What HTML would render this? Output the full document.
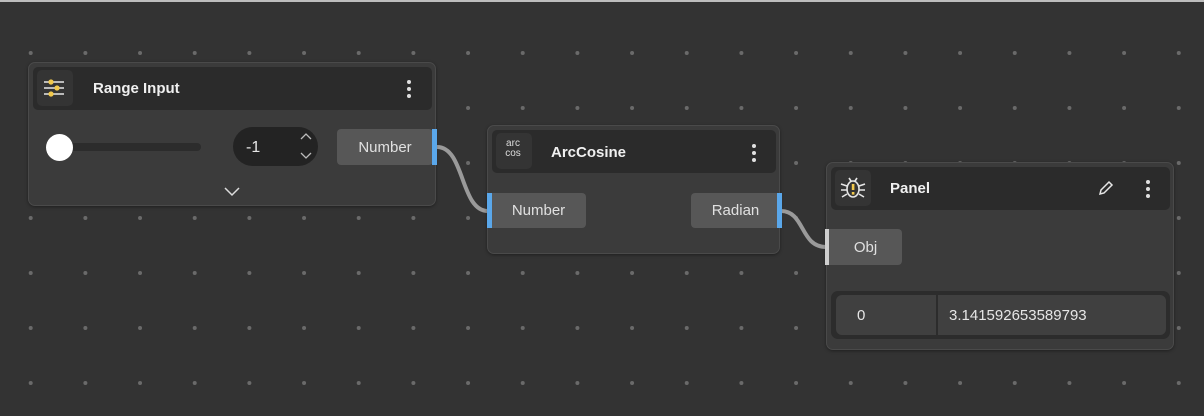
<!DOCTYPE html>
<html><head><style>
*{margin:0;padding:0;box-sizing:border-box}
body{width:1204px;height:416px;overflow:hidden;background:#333333;position:relative;font-family:"Liberation Sans",sans-serif;color:#e6e6e6}
.top{position:absolute;left:0;top:0;width:1204px;height:2px;background:#bdbdbd}
.node{position:absolute;background:#3b3b3b;border:1px solid #4a4a4a;border-radius:7px;box-shadow:0 1px 3px rgba(0,0,0,.4)}
.hdr{position:absolute;background:#2b2b2b;border-radius:5px}
.ico{position:absolute;background:#343434;border-radius:5px}
.title{position:absolute;font-weight:bold;font-size:15px;color:#f0f0f0}
.port{position:absolute;background:#575757;border-radius:4px;font-size:15px;color:#e0e0e0;text-align:center}
.bar{position:absolute;background:#5aa7ea}
.dots{position:absolute;width:4px}
.dots i{display:block;width:4px;height:4px;border-radius:2px;background:#e0e0e0;margin-bottom:3px}
</style></head><body>
<div class="top"></div>
<svg width="1204" height="416" style="position:absolute;left:0;top:0">
<g fill="#6a6a6a" id="g"></g>
<script>
var g=document.getElementById('g');
for(var r=0;r<7;r++)for(var c=0;c<22;c++){var e=document.createElementNS('http://www.w3.org/2000/svg','circle');e.setAttribute('cx',30.7+54.67*c);e.setAttribute('cy',53+55*r);e.setAttribute('r',2);g.appendChild(e);}
</script>
<path d="M437 147 C465 147 460 211 488 211" stroke="#9a9a9a" stroke-width="4" fill="none"/>
<path d="M781 211 C805 211 800 247 826 247" stroke="#9a9a9a" stroke-width="4" fill="none"/>
</svg>

<!-- Range Input -->
<div class="node" style="left:28px;top:62px;width:408px;height:144px">
 <div class="hdr" style="left:4px;top:4px;width:399px;height:43px"></div>
 <div class="ico" style="left:8px;top:7px;width:36px;height:36px"></div>
</div>
<svg width="30" height="30" style="position:absolute;left:40px;top:74px">
 <g stroke="#e6e6e6" stroke-width="1.6"><line x1="4" y1="8" x2="24" y2="8"/><line x1="4" y1="14" x2="24" y2="14"/><line x1="4" y1="20" x2="24" y2="20"/></g>
 <g fill="#f2c94c"><circle cx="11" cy="8" r="2.6"/><circle cx="17" cy="14" r="2.6"/><circle cx="11" cy="20" r="2.6"/></g>
</svg>
<div class="title" style="left:93px;top:80px">Range Input</div>
<div class="dots" style="left:407px;top:80px"><i></i><i></i><i></i></div>
<div style="position:absolute;left:59px;top:143px;width:142px;height:8px;background:#2c2c2c;border-radius:4px"></div>
<div style="position:absolute;left:46px;top:134px;width:27px;height:27px;border-radius:50%;background:#fff"></div>
<div style="position:absolute;left:233px;top:127px;width:85px;height:39px;border-radius:20px;background:#232323"></div>
<div style="position:absolute;left:246px;top:139px;font-size:16px;color:#e6e6e6">-1</div>
<svg width="14" height="30" style="position:absolute;left:299px;top:131px" fill="none" stroke="#bbb" stroke-width="1.3"><path d="M2 8 L7 3 L12 8"/><path d="M2 22 L7 27 L12 22"/></svg>
<div class="port" style="left:337px;top:129px;width:96px;height:36px;line-height:37px">Number</div>
<div class="bar" style="left:432px;top:129px;width:5px;height:36px"></div>
<svg width="18" height="12" style="position:absolute;left:223px;top:186px" fill="none" stroke="#ddd" stroke-width="1.5"><path d="M2 2 L9 9 L16 2"/></svg>

<!-- ArcCosine -->
<div class="node" style="left:487px;top:125px;width:293px;height:129px">
 <div class="hdr" style="left:4px;top:4px;width:284px;height:43px"></div>
 <div class="ico" style="left:8px;top:7px;width:36px;height:36px"></div>
</div>
<div style="position:absolute;left:497px;top:139px;width:32px;font-size:10px;line-height:10px;text-align:center;color:#ddd">arc<br>cos</div>
<div class="title" style="left:551px;top:144px">ArcCosine</div>
<div class="dots" style="left:752px;top:144px"><i></i><i></i><i></i></div>
<div class="port" style="left:487px;top:193px;width:99px;height:35px;line-height:36px;padding-left:4px">Number</div>
<div class="bar" style="left:487px;top:193px;width:5px;height:35px"></div>
<div class="port" style="left:691px;top:193px;width:89px;height:35px;line-height:36px">Radian</div>
<div class="bar" style="left:777px;top:193px;width:5px;height:35px"></div>

<!-- Panel -->
<div class="node" style="left:826px;top:162px;width:348px;height:188px">
 <div class="hdr" style="left:4px;top:4px;width:339px;height:43px"></div>
 <div class="ico" style="left:8px;top:7px;width:36px;height:36px"></div>
 <div style="position:absolute;left:4px;top:128px;width:339px;height:48px;background:#2c2c2c;border-radius:7px"></div>
 <div style="position:absolute;left:9px;top:132px;width:100px;height:40px;background:#404040;border-radius:6px 0 0 6px"></div>
 <div style="position:absolute;left:111px;top:132px;width:228px;height:40px;background:#404040;border-radius:0 6px 6px 0"></div>
</div>
<svg width="30" height="30" style="position:absolute;left:838px;top:173px" fill="none" stroke="#e6e6e6" stroke-width="1.6">
 <ellipse cx="15" cy="16" rx="6" ry="8"/><path d="M11 5 L13 8 M19 5 L17 8 M3 11 L9 13 M27 11 L21 13 M3 17 L9 17 M27 17 L21 17 M4 24 L9 21 M26 24 L21 21"/>
 <rect x="13.8" y="11" width="2.6" height="6" fill="#f2c94c" stroke="none"/><rect x="13.8" y="19" width="2.6" height="2.6" fill="#f2c94c" stroke="none"/>
</svg>
<div class="title" style="left:890px;top:180px">Panel</div>
<svg width="18" height="18" style="position:absolute;left:1097px;top:179px" fill="none" stroke="#e6e6e6" stroke-width="1.5"><path d="M3 15 L4 11 L12 3 L15 6 L7 14 Z"/></svg>
<div class="dots" style="left:1146px;top:180px"><i></i><i></i><i></i></div>
<div class="port" style="left:825px;top:229px;width:77px;height:36px;line-height:37px;padding-left:4px">Obj</div>
<div style="position:absolute;left:825px;top:229px;width:4px;height:36px;background:#cfcfcf"></div>
<div style="position:absolute;left:857px;top:307px;font-size:15px">0</div>
<div style="position:absolute;left:949px;top:307px;font-size:15px">3.141592653589793</div>
</body></html>
